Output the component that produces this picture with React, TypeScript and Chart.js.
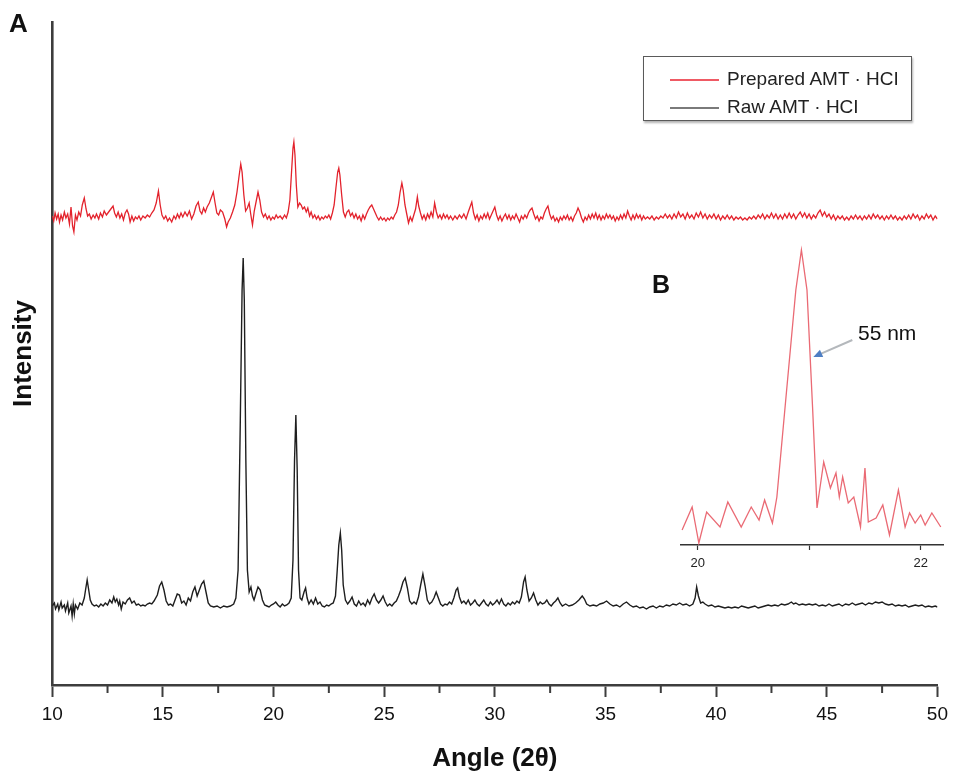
import React, { useEffect, useRef } from "react";
import { Chart, registerables } from "chart.js";

Chart.register(...registerables);

// ---- Data ----
const seriesNames = ["Prepared AMT · HCI", "Raw AMT · HCI"];
const xAxisTitle = "Angle (2θ)";
const yAxisTitle = "Intensity";
const xMajorTicks = [10, 15, 20, 25, 30, 35, 40, 45, 50];
const xMinorTicks = [12.5, 17.5, 22.5, 27.5, 32.5, 37.5, 42.5, 47.5];
const insetTickLabels = [20, 22];
const insetLabel = "55 nm";
const arrowTip = [21.01, 1880];

const rawAngle = [
  10.0, 10.1, 10.15, 10.25, 10.3, 10.4, 10.45, 10.55, 10.6, 10.7, 10.75, 10.85, 10.9, 10.95, 11.0, 11.05, 11.15, 11.25, 11.35, 11.45,
  11.52, 11.58, 11.65, 11.72, 11.8, 11.9, 12.0, 12.1, 12.2, 12.3, 12.4, 12.5, 12.6, 12.7, 12.78, 12.85, 12.92, 13.0, 13.05, 13.12,
  13.2, 13.3, 13.4, 13.5, 13.6, 13.7, 13.8, 13.9, 14.0, 14.1, 14.2, 14.3, 14.4, 14.5, 14.6, 14.75, 14.85, 14.95, 15.05, 15.15,
  15.25, 15.35, 15.45, 15.55, 15.65, 15.75, 15.85, 15.95, 16.05, 16.15, 16.25, 16.35, 16.45, 16.55, 16.65, 16.75, 16.85, 16.95, 17.05, 17.15,
  17.3, 17.45, 17.6, 17.75, 17.9, 18.05, 18.2, 18.3, 18.4, 18.5, 18.58, 18.63, 18.68, 18.75, 18.82, 18.9, 18.98, 19.05, 19.12, 19.2,
  19.3, 19.4, 19.5, 19.6, 19.7, 19.8, 19.9, 20.0, 20.1, 20.2, 20.3, 20.4, 20.5, 20.6, 20.7, 20.8, 20.88, 20.95, 21.01, 21.07,
  21.13, 21.2, 21.28, 21.38, 21.45, 21.52, 21.6, 21.7, 21.8, 21.9, 22.0, 22.1, 22.2, 22.3, 22.4, 22.5, 22.6, 22.7, 22.8, 22.88,
  22.95, 23.02, 23.08, 23.15, 23.25, 23.35, 23.45, 23.55, 23.65, 23.75, 23.85, 23.95, 24.05, 24.15, 24.25, 24.35, 24.45, 24.55, 24.65, 24.75,
  24.85, 24.95, 25.05, 25.15, 25.25, 25.35, 25.45, 25.55, 25.65, 25.75, 25.85, 25.95, 26.05, 26.15, 26.25, 26.35, 26.45, 26.55, 26.65, 26.75,
  26.85, 26.95, 27.05, 27.15, 27.25, 27.35, 27.45, 27.55, 27.65, 27.75, 27.85, 27.95, 28.05, 28.15, 28.25, 28.32, 28.4, 28.5, 28.6, 28.7,
  28.8, 28.9, 29.0, 29.1, 29.2, 29.3, 29.4, 29.5, 29.6, 29.7, 29.8, 29.9, 30.0, 30.1, 30.2, 30.3, 30.4, 30.5, 30.6, 30.7,
  30.8, 30.9, 31.0, 31.1, 31.2, 31.3, 31.37, 31.45, 31.55, 31.65, 31.75, 31.85, 31.95, 32.05, 32.15, 32.25, 32.35, 32.45, 32.55, 32.65,
  32.75, 32.85, 32.95, 33.05, 33.2, 33.35, 33.5, 33.65, 33.8, 33.95, 34.05, 34.15, 34.3, 34.45, 34.6, 34.75, 34.9, 35.05, 35.2, 35.35,
  35.5, 35.65, 35.8, 35.95, 36.1, 36.25, 36.4, 36.55, 36.7, 36.85, 37.0, 37.15, 37.3, 37.45, 37.6, 37.75, 37.9, 38.05, 38.2, 38.35,
  38.5, 38.65, 38.8, 38.95, 39.05, 39.12, 39.2, 39.3, 39.4, 39.5, 39.65, 39.8, 39.95, 40.1, 40.25, 40.4, 40.55, 40.7, 40.85, 41.0,
  41.15, 41.3, 41.45, 41.6, 41.75, 41.9, 42.05, 42.2, 42.35, 42.5, 42.65, 42.8, 42.95, 43.1, 43.25, 43.4, 43.5, 43.6, 43.75, 43.9,
  44.05, 44.2, 44.35, 44.5, 44.65, 44.8, 44.95, 45.1, 45.25, 45.4, 45.55, 45.7, 45.85, 46.0, 46.15, 46.3, 46.45, 46.6, 46.75, 46.9,
  47.05, 47.2, 47.35, 47.5, 47.65, 47.8, 47.95, 48.1, 48.25, 48.4, 48.55, 48.7, 48.85, 49.0, 49.15, 49.3, 49.45, 49.6, 49.75, 49.9,
  50.0,
];
const rawIntensity = [
  790, 820, 760, 810, 750, 830, 770, 800, 740, 820, 720, 790, 690, 810, 710, 800, 760, 820, 800, 870,
  970, 1050, 950, 850, 810, 790, 800, 780, 810, 790, 820, 800, 850, 820, 880, 830, 860, 800, 840, 760,
  830, 810, 850, 870, 820, 840, 800, 810, 790, 800, 790, 810, 820, 810, 840, 900, 990, 1030, 950, 840,
  800, 810, 790, 850, 910, 900, 820, 840, 800, 870, 840, 930, 980, 890, 950, 1010, 1040, 930, 820, 790,
  780, 790, 770, 790, 780, 790, 810, 870, 1150, 2650, 3950, 4270, 3850, 2250, 1150, 930, 980, 890, 850, 910,
  980, 950, 850, 800, 790, 780, 800, 810, 830, 800, 780, 810, 790, 800, 820, 870, 1250, 2250, 2700, 2150,
  1150, 870, 850, 930, 970, 870, 810, 850, 810, 870, 810, 830, 790, 780, 800, 790, 810, 820, 890, 1150,
  1400, 1520, 1350, 1000, 850, 810, 840, 880, 810, 790, 840, 800, 820, 790, 850, 810, 870, 910, 850, 820,
  850, 890, 830, 790, 810, 790, 820, 840, 890, 950, 1030, 1070, 970, 840, 810, 830, 810, 880, 1000, 1110,
  990, 850, 810, 830, 870, 930, 870, 810, 790, 810, 800, 830, 810, 870, 950, 970, 880, 820, 840, 810,
  850, 800, 820, 850, 810, 790, 820, 850, 810, 790, 830, 800, 820, 850, 810, 860, 810, 790, 820, 800,
  830, 810, 840, 820, 880, 1030, 1080, 950, 840, 870, 920, 850, 800, 830, 810, 820, 850, 810, 790, 820,
  840, 870, 820, 790, 810, 790, 800, 820, 850, 890, 860, 810, 790, 800, 790, 810, 820, 840, 810, 790,
  800, 780, 810, 830, 800, 780, 790, 770, 780, 760, 780, 790, 770, 790, 780, 800, 790, 810, 800, 820,
  800, 810, 790, 810, 870, 980, 890, 820, 830, 810, 790, 800, 780, 790, 780, 770, 780, 770, 780, 770,
  790, 780, 770, 780, 790, 770, 780, 790, 800, 790, 800, 790, 810, 800, 810, 830, 810, 820, 800, 810,
  800, 810, 800, 810, 790, 800, 790, 810, 790, 800, 810, 790, 810, 800, 820, 800, 810, 820, 800, 820,
  810, 830, 820, 830, 810, 800, 810, 790, 800, 790, 800, 780, 790, 800, 790, 800, 780, 790, 780, 790,
  780,
];

const prepAngle = [
  10.0, 10.07, 10.13, 10.2, 10.27, 10.33, 10.4, 10.47, 10.55, 10.62, 10.7, 10.78, 10.85, 10.92, 10.98, 11.05, 11.12, 11.2, 11.28, 11.36,
  11.45, 11.53, 11.6, 11.68, 11.76, 11.85, 11.93, 12.0, 12.1, 12.18, 12.27, 12.35, 12.45, 12.55, 12.65, 12.75, 12.82, 12.9, 12.98, 13.06,
  13.14, 13.22, 13.3, 13.38, 13.45, 13.52, 13.6, 13.68, 13.76, 13.84, 13.92, 14.0, 14.1, 14.2, 14.3, 14.4, 14.5, 14.6, 14.7, 14.8,
  14.88, 14.96, 15.05, 15.13, 15.22, 15.3, 15.4, 15.5, 15.58, 15.66, 15.74, 15.82, 15.9, 16.0, 16.1, 16.2, 16.3, 16.4, 16.5, 16.6,
  16.68, 16.76, 16.84, 16.92, 17.0, 17.1, 17.2, 17.28, 17.36, 17.44, 17.52, 17.6, 17.7, 17.8, 17.88, 17.95, 18.05, 18.15, 18.25, 18.35,
  18.45, 18.52, 18.58, 18.66, 18.74, 18.82, 18.9, 18.97, 19.05, 19.13, 19.22, 19.3, 19.38, 19.46, 19.55, 19.63, 19.72, 19.8, 19.88, 19.96,
  20.04, 20.12, 20.2, 20.3, 20.4, 20.5, 20.58, 20.66, 20.74, 20.82, 20.88, 20.92, 20.97, 21.03, 21.1, 21.18, 21.25, 21.32, 21.4, 21.48,
  21.55, 21.63, 21.7, 21.78, 21.86, 21.94, 22.02, 22.1, 22.18, 22.26, 22.34, 22.42, 22.5, 22.58, 22.66, 22.74, 22.82, 22.9, 22.95, 23.0,
  23.08, 23.16, 23.24, 23.32, 23.4, 23.48, 23.56, 23.64, 23.72, 23.8, 23.88, 23.96, 24.04, 24.12, 24.2, 24.28, 24.36, 24.44, 24.52, 24.6,
  24.68, 24.76, 24.84, 24.92, 25.0, 25.08, 25.16, 25.24, 25.32, 25.4, 25.48, 25.56, 25.64, 25.72, 25.8, 25.86, 25.94, 26.02, 26.1, 26.18,
  26.26, 26.34, 26.42, 26.5, 26.56, 26.64, 26.72, 26.8, 26.88, 26.96, 27.04, 27.12, 27.2, 27.28, 27.36, 27.44, 27.52, 27.6, 27.68, 27.76,
  27.84, 27.92, 28.0, 28.1, 28.2, 28.3, 28.4, 28.5, 28.6, 28.7, 28.8, 28.88, 28.96, 29.04, 29.12, 29.2, 29.28, 29.36, 29.44, 29.52,
  29.6, 29.68, 29.76, 29.84, 29.92, 30.0, 30.08, 30.16, 30.24, 30.32, 30.4, 30.48, 30.56, 30.64, 30.72, 30.8, 30.88, 30.96, 31.04, 31.12,
  31.2, 31.28, 31.36, 31.44, 31.52, 31.6, 31.68, 31.76, 31.84, 31.92, 32.0, 32.08, 32.16, 32.24, 32.32, 32.4, 32.48, 32.56, 32.64, 32.72,
  32.8, 32.88, 32.96, 33.04, 33.12, 33.2, 33.28, 33.36, 33.44, 33.52, 33.6, 33.68, 33.76, 33.84, 33.92, 34.0, 34.08, 34.16, 34.24, 34.32,
  34.4, 34.48, 34.56, 34.64, 34.72, 34.8, 34.88, 34.96, 35.04, 35.12, 35.2, 35.28, 35.36, 35.44, 35.52, 35.6, 35.68, 35.76, 35.84, 35.92,
  36.0, 36.08, 36.16, 36.24, 36.32, 36.4, 36.48, 36.56, 36.64, 36.72, 36.8, 36.9, 37.0, 37.1, 37.2, 37.3, 37.4, 37.5, 37.6, 37.7,
  37.8, 37.9, 38.0, 38.1, 38.2, 38.3, 38.4, 38.5, 38.6, 38.7, 38.8, 38.9, 39.0, 39.1, 39.2, 39.3, 39.4, 39.5, 39.6, 39.7,
  39.8, 39.9, 40.0, 40.1, 40.2, 40.3, 40.4, 40.5, 40.6, 40.7, 40.8, 40.9, 41.0, 41.1, 41.2, 41.3, 41.4, 41.5, 41.6, 41.7,
  41.8, 41.9, 42.0, 42.1, 42.2, 42.3, 42.4, 42.5, 42.6, 42.7, 42.8, 42.9, 43.0, 43.1, 43.2, 43.3, 43.4, 43.5, 43.6, 43.7,
  43.8, 43.9, 44.0, 44.1, 44.2, 44.3, 44.4, 44.5, 44.6, 44.7, 44.8, 44.9, 45.0, 45.1, 45.2, 45.3, 45.4, 45.5, 45.6, 45.7,
  45.8, 45.9, 46.0, 46.1, 46.2, 46.3, 46.4, 46.5, 46.6, 46.7, 46.8, 46.9, 47.0, 47.1, 47.2, 47.3, 47.4, 47.5, 47.6, 47.7,
  47.8, 47.9, 48.0, 48.1, 48.2, 48.3, 48.4, 48.5, 48.6, 48.7, 48.8, 48.9, 49.0, 49.1, 49.2, 49.3, 49.4, 49.5, 49.6, 49.7,
  49.8, 49.9, 50.0,
];
const prepIntensity = [
  4690, 4640, 4720, 4660, 4710, 4630, 4700, 4650, 4730, 4670, 4710, 4610, 4780, 4590, 4530, 4700, 4650, 4730, 4690, 4800,
  4870, 4760, 4690, 4710, 4660, 4700, 4670, 4710, 4660, 4720, 4680, 4740, 4700, 4730, 4760, 4790, 4720, 4680, 4730, 4670,
  4710, 4650, 4720, 4750, 4710, 4630, 4690, 4640, 4680, 4660, 4690, 4650, 4690, 4670, 4700, 4680, 4720, 4750, 4820, 4940,
  4800, 4700, 4660, 4690, 4640, 4670, 4630, 4690, 4660, 4710, 4670, 4720, 4680, 4730, 4690, 4740, 4660, 4710, 4790, 4830,
  4740, 4710, 4770, 4730, 4780, 4820, 4880, 4930, 4820, 4720, 4700, 4750, 4730, 4660, 4580, 4630, 4670, 4730, 4800, 4930,
  5100, 5210, 5130, 4900, 4740, 4770, 4820, 4710, 4600, 4740, 4840, 4930, 4850, 4730, 4680, 4710, 4660, 4690, 4650, 4680,
  4660, 4700, 4670, 4690, 4660, 4700, 4670, 4730, 4850, 5150, 5370, 5430, 5300, 5000, 4780, 4820, 4800, 4760, 4780, 4730,
  4770, 4690, 4730, 4670, 4700, 4660, 4690, 4650, 4680, 4660, 4690, 4670, 4700, 4660, 4720, 4800, 4970, 5130, 5170, 5100,
  4900, 4730, 4680, 4730, 4750, 4690, 4720, 4670, 4710, 4660, 4690, 4640, 4700, 4660, 4710, 4750, 4780, 4800, 4760, 4720,
  4680, 4650, 4680, 4650, 4670, 4640, 4670, 4650, 4680, 4660, 4700, 4730, 4800, 4930, 5020, 4950, 4800, 4710, 4620, 4680,
  4640, 4700, 4760, 4880, 4790, 4720, 4660, 4700, 4650, 4710, 4670, 4730, 4680, 4820, 4730, 4670, 4700, 4660, 4710, 4670,
  4700, 4660, 4690, 4650, 4690, 4660, 4700, 4670, 4710, 4660, 4730, 4780, 4830, 4720, 4660, 4700, 4640, 4690, 4660, 4710,
  4670, 4720, 4660, 4700, 4740, 4780, 4700, 4650, 4690, 4640, 4680, 4710, 4660, 4700, 4650, 4690, 4660, 4710, 4670, 4630,
  4690, 4660, 4700, 4670, 4720, 4750, 4770, 4710, 4660, 4690, 4640, 4680, 4660, 4720, 4760, 4790, 4710, 4660, 4690, 4640,
  4670, 4630, 4680, 4650, 4690, 4660, 4700, 4650, 4680, 4640, 4690, 4720, 4770, 4730, 4670, 4630, 4680, 4650, 4700, 4660,
  4710, 4670, 4720, 4660, 4700, 4650, 4690, 4660, 4710, 4670, 4700, 4660, 4690, 4640, 4680, 4650, 4700, 4660, 4710, 4670,
  4740, 4690, 4650, 4700, 4660, 4710, 4670, 4700, 4650, 4690, 4660, 4680, 4660, 4690, 4650, 4680, 4660, 4690, 4670, 4710,
  4670, 4700, 4660, 4710, 4670, 4730, 4680, 4710, 4660, 4720, 4670, 4700, 4660, 4720, 4680, 4730, 4670, 4710, 4660, 4700,
  4670, 4710, 4660, 4700, 4650, 4690, 4660, 4700, 4660, 4690, 4650, 4680, 4660, 4680, 4650, 4670, 4650, 4680, 4660, 4690,
  4660, 4700, 4670, 4710, 4660, 4700, 4670, 4720, 4670, 4710, 4660, 4700, 4660, 4710, 4670, 4720, 4670, 4710, 4660, 4700,
  4730, 4680, 4720, 4670, 4710, 4660, 4700, 4670, 4720, 4750, 4690, 4730, 4680, 4710, 4660, 4700, 4650, 4690, 4660, 4690,
  4650, 4680, 4650, 4690, 4660, 4700, 4660, 4690, 4650, 4690, 4660, 4700, 4660, 4710, 4670, 4700, 4660, 4690, 4650, 4690,
  4660, 4700, 4660, 4690, 4650, 4680, 4650, 4690, 4660, 4700, 4660, 4710, 4670, 4700, 4650, 4690, 4660, 4710, 4670, 4700,
  4650, 4690, 4660,
];

const insetAngle = [
  19.86, 19.95, 20.01, 20.08, 20.2, 20.27, 20.39, 20.48, 20.55, 20.6, 20.67, 20.71, 20.8, 20.88, 20.93, 20.98, 21.03, 21.07, 21.13, 21.19,
  21.24, 21.27, 21.3, 21.35, 21.4, 21.46, 21.5, 21.53, 21.6, 21.66, 21.72, 21.8, 21.86, 21.9, 21.95, 22.0, 22.04, 22.1, 22.18,
];
const insetIntensity = [
  150, 380, 20, 330, 180, 430, 180, 380, 250, 450, 220, 480, 1580, 2550, 2950, 2550, 1380, 370, 830, 570,
  720, 480, 680, 420, 480, 180, 770, 230, 270, 400, 100, 550, 180, 320, 220, 300, 200, 320, 180,
];

const AXIS = "#3d3d3d";
const FONT = "'Liberation Sans', Arial, Helvetica, sans-serif";

function toPoints(xs: number[], ys: number[]) {
  return xs.map((x, i) => ({ x, y: ys[i] }));
}

const minorTickPlugin = {
  id: "minorTicks",
  afterDraw(chart: any) {
    const xs = chart.scales.x;
    const ctx = chart.ctx;
    ctx.save();
    ctx.strokeStyle = AXIS;
    ctx.lineWidth = 2;
    for (const v of xMinorTicks) {
      const px = xs.getPixelForValue(v);
      ctx.beginPath();
      ctx.moveTo(px, xs.top);
      ctx.lineTo(px, xs.top + 8);
      ctx.stroke();
    }
    ctx.restore();
  },
};

const arrowPlugin = {
  id: "insetArrow",
  afterDatasetsDraw(chart: any) {
    const { x, y } = chart.scales;
    const ctx = chart.ctx;
    const tx = x.getPixelForValue(arrowTip[0]) + 3;
    const ty = y.getPixelForValue(arrowTip[1]);
    const dx = 39, dy = -17;
    const len = Math.hypot(dx, dy);
    const ux = dx / len, uy = dy / len;
    ctx.save();
    ctx.strokeStyle = "#b4b8bc";
    ctx.lineWidth = 2;
    ctx.beginPath();
    ctx.moveTo(tx + ux * 6, ty + uy * 6);
    ctx.lineTo(tx + dx, ty + dy);
    ctx.stroke();
    ctx.fillStyle = "#4f7fc4";
    ctx.beginPath();
    ctx.moveTo(tx, ty);
    ctx.lineTo(tx + ux * 9 - uy * 4, ty + uy * 9 + ux * 4);
    ctx.lineTo(tx + ux * 9 + uy * 4, ty + uy * 9 - ux * 4);
    ctx.closePath();
    ctx.fill();
    ctx.restore();
  },
};

export default function App() {
  const mainRef = useRef<HTMLCanvasElement | null>(null);
  const insetRef = useRef<HTMLCanvasElement | null>(null);

  useEffect(() => {
    document.body.style.margin = "0";
    document.body.style.overflow = "hidden";
    Chart.defaults.font.family = FONT;
    Chart.defaults.color = "#111";

    const main = new Chart(mainRef.current as HTMLCanvasElement, {
      type: "line",
      data: {
        datasets: [
          {
            label: seriesNames[0],
            data: toPoints(prepAngle, prepIntensity),
            borderColor: "#e3222c",
            borderWidth: 1.3,
            pointRadius: 0,
            tension: 0,
          },
          {
            label: seriesNames[1],
            data: toPoints(rawAngle, rawIntensity),
            borderColor: "#1e1e1e",
            borderWidth: 1.4,
            pointRadius: 0,
            tension: 0,
          },
        ],
      },
      options: {
        animation: false,
        responsive: false,
        events: [],
        layout: { padding: { top: 22, right: 16, left: 0, bottom: 0 } },
        plugins: { legend: { display: false }, tooltip: { enabled: false } },
        scales: {
          x: {
            type: "linear",
            min: 10,
            max: 50,
            afterBuildTicks: (scale: any) => {
              scale.ticks = xMajorTicks.map((v) => ({ value: v }));
            },
            ticks: { font: { size: 19 }, color: "#111", padding: 6, maxRotation: 0, autoSkip: false },
            grid: {
              display: true,
              drawOnChartArea: false,
              drawTicks: true,
              tickLength: 12,
              tickColor: AXIS,
              tickWidth: 2,
            },
            border: { display: true, color: AXIS, width: 2.6 },
            title: {
              display: true,
              text: xAxisTitle,
              font: { size: 26, weight: "bold" },
              color: "#111",
              padding: { top: 11.6, bottom: 2.4 },
            },
          },
          y: {
            type: "linear",
            min: 0,
            max: 6630,
            ticks: { display: false },
            grid: { display: false, drawTicks: false },
            border: { display: true, color: AXIS, width: 2.6 },
            title: {
              display: true,
              text: yAxisTitle,
              font: { size: 26, weight: "bold" },
              color: "#111",
              padding: { top: 8, bottom: 13 },
            },
          },
        },
      },
      plugins: [minorTickPlugin],
    } as any);

    const inset = new Chart(insetRef.current as HTMLCanvasElement, {
      type: "line",
      data: {
        datasets: [
          {
            label: seriesNames[0],
            data: toPoints(insetAngle, insetIntensity),
            borderColor: "#ea6a74",
            borderWidth: 1.3,
            pointRadius: 0,
            tension: 0,
          },
        ],
      },
      options: {
        animation: false,
        responsive: false,
        events: [],
        layout: { padding: { top: 10, right: 11, left: 41, bottom: 2.4 } },
        plugins: { legend: { display: false }, tooltip: { enabled: false } },
        scales: {
          x: {
            type: "linear",
            min: 19.85,
            max: 22.2,
            ticks: {
              stepSize: 1,
              includeBounds: false,
              font: { size: 13 },
              color: "#222",
              padding: 6,
              maxRotation: 0,
              autoSkip: false,
              callback: (v: any) => (insetTickLabels.includes(Number(v)) ? String(v) : ""),
            },
            grid: {
              display: true,
              drawOnChartArea: false,
              drawTicks: true,
              tickLength: 5,
              tickColor: "#333",
              tickWidth: 1.2,
            },
            border: { display: true, color: "#333", width: 1.6 },
          },
          y: { display: false, min: 0, max: 3050 },
        },
      },
      plugins: [arrowPlugin],
    } as any);

    return () => {
      main.destroy();
      inset.destroy();
    };
  }, []);

  const legendText: React.CSSProperties = {
    position: "absolute",
    left: 83,
    fontSize: 19,
    lineHeight: "20px",
    color: "#222",
    whiteSpace: "nowrap",
    fontFamily: FONT,
  };

  return (
    <div style={{ position: "relative", width: 954, height: 777, background: "#fff", fontFamily: FONT }}>
      <canvas ref={mainRef} width={954} height={777} style={{ position: "absolute", left: 0, top: 0 }} />
      <canvas ref={insetRef} width={314} height={350} style={{ position: "absolute", left: 640, top: 230 }} />
      <div style={{ position: "absolute", left: 9, top: 9.6, fontSize: 26, fontWeight: "bold", lineHeight: "26px", color: "#111" }}>A</div>
      <div style={{ position: "absolute", left: 652, top: 271.8, fontSize: 25, fontWeight: "bold", lineHeight: "25px", color: "#111" }}>B</div>
      <div style={{ position: "absolute", left: 858, top: 322.3, fontSize: 21, lineHeight: "21px", color: "#111" }}>{insetLabel}</div>
      <div
        style={{
          position: "absolute",
          left: 643,
          top: 56,
          width: 267,
          height: 63,
          border: "1.5px solid #5a5a5a",
          boxShadow: "1px 2px 2px rgba(0,0,0,0.3)",
          background: "#fff",
        }}
      >
        <div style={{ position: "absolute", left: 26, top: 21.5, width: 49, height: 2, background: "#ef5a64" }} />
        <div style={{ ...legendText, top: 12 }}>{seriesNames[0]}</div>
        <div style={{ position: "absolute", left: 26, top: 49.5, width: 49, height: 2, background: "#7a7a7a" }} />
        <div style={{ ...legendText, top: 40 }}>{seriesNames[1]}</div>
      </div>
    </div>
  );
}
